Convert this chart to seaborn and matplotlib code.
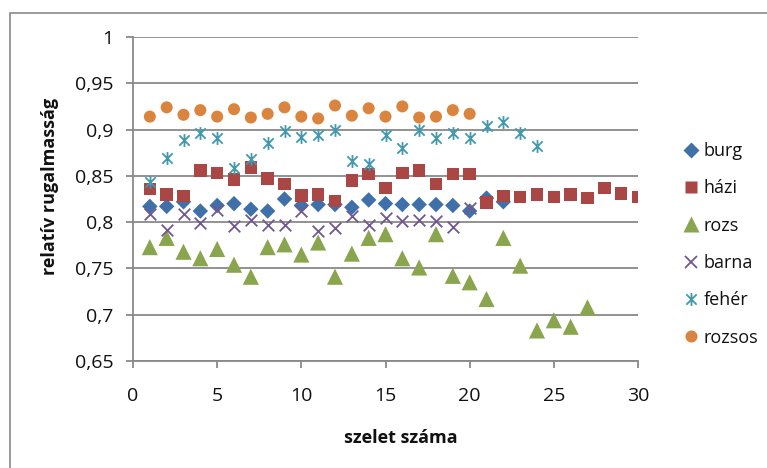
import matplotlib
matplotlib.use("Agg")
import matplotlib.pyplot as plt
from matplotlib.lines import Line2D
from matplotlib.patches import Rectangle
from matplotlib.path import Path
import numpy as np
import pandas as pd
import seaborn as sns

# Relative elasticity measured per slice for six bread types
burg = [0.817, 0.817, 0.822, 0.812, 0.818, 0.820, 0.814, 0.812, 0.825, 0.818, 0.819,
        0.819, 0.816, 0.824, 0.820, 0.819, 0.819, 0.819, 0.818, 0.812, 0.826, 0.822]
hazi = [0.836, 0.830, 0.828, 0.856, 0.853, 0.846, 0.859, 0.847, 0.841, 0.829, 0.830,
        0.823, 0.845, 0.852, 0.837, 0.853, 0.856, 0.841, 0.852, 0.852, 0.821, 0.828,
        0.827, 0.830, 0.827, 0.830, 0.826, 0.837, 0.831, 0.827]
rozs = [0.773, 0.783, 0.768, 0.761, 0.771, 0.754, 0.741, 0.773, 0.776, 0.765, 0.778,
        0.741, 0.766, 0.783, 0.787, 0.761, 0.751, 0.787, 0.742, 0.735, 0.717, 0.783,
        0.753, 0.683, 0.694, 0.687, 0.708]
barna = [0.809, 0.792, 0.809, 0.799, 0.813, 0.796, 0.802, 0.797, 0.797, 0.812, 0.790,
         0.794, 0.807, 0.797, 0.805, 0.801, 0.802, 0.801, 0.795, 0.815]
feher = [0.843, 0.869, 0.889, 0.896, 0.891, 0.859, 0.868, 0.886, 0.898, 0.892, 0.894,
         0.899, 0.866, 0.863, 0.894, 0.880, 0.900, 0.891, 0.896, 0.891, 0.904, 0.908,
         0.896, 0.882]
rozsos = [0.914, 0.924, 0.916, 0.921, 0.914, 0.922, 0.913, 0.917, 0.924, 0.914, 0.912,
          0.926, 0.915, 0.923, 0.914, 0.925, 0.913, 0.914, 0.921, 0.917]

series_names = ["burg", "házi", "rozs", "barna", "fehér", "rozsos"]
series_values = [burg, hazi, rozs, barna, feher, rozsos]

y_ticks = [0.65, 0.70, 0.75, 0.80, 0.85, 0.90, 0.95, 1.0]
y_tick_labels = ["0,65", "0,7", "0,75", "0,8", "0,85", "0,9", "0,95", "1"]
x_ticks = [0, 5, 10, 15, 20, 25, 30]

# Asterisk marker: an X crossed by a vertical stroke
star_path = Path([(-0.5, -0.5), (0.5, 0.5), (-0.5, 0.5), (0.5, -0.5), (0, -0.62), (0, 0.62)],
                 [Path.MOVETO, Path.LINETO, Path.MOVETO, Path.LINETO, Path.MOVETO, Path.LINETO])

styles = {
    "burg":   dict(color="#4070AA", marker="D", s=62, filled=True),
    "házi":   dict(color="#AA4643", marker="s", s=80, filled=True),
    "rozs":   dict(color="#89A54E", marker="^", s=135, filled=True),
    "barna":  dict(color="#71588F", marker="x", s=70, filled=False),
    "fehér":  dict(color="#4198AF", marker=star_path, s=85, filled=False),
    "rozsos": dict(color="#DB843D", marker="o", s=75, filled=True),
}

frames = []
for name, vals in zip(series_names, series_values):
    frames.append(pd.DataFrame({"szelet": np.arange(1, len(vals) + 1),
                                "rugalmasság": vals, "kenyér": name}))
df = pd.concat(frames, ignore_index=True)

sns.set_style("white")
plt.rcParams["font.family"] = ["Open Sans", "DejaVu Sans"]

fig = plt.figure(figsize=(7.67, 4.68), dpi=100)
ax = fig.add_axes([133 / 767, 1 - 361 / 468, (638 - 133) / 767, (361 - 37) / 468])

for name in series_names:
    st = styles[name]
    sub = df[df["kenyér"] == name]
    if st["filled"]:
        sns.scatterplot(data=sub, x="szelet", y="rugalmasság", ax=ax, color=st["color"],
                        marker=st["marker"], s=st["s"], edgecolor="none", linewidth=0,
                        zorder=3)
    else:
        sns.scatterplot(data=sub, x="szelet", y="rugalmasság", ax=ax, color=st["color"],
                        marker=st["marker"], s=st["s"], edgecolor=st["color"],
                        facecolor=st["color"], linewidth=1.3, zorder=3)

ax.set_xlim(0, 30)
ax.set_ylim(0.65, 1.0)
ax.set_yticks(y_ticks)
ax.set_yticklabels(y_tick_labels)
ax.set_xticks(x_ticks)
ax.set_xticklabels([str(t) for t in x_ticks])
ax.set_xlabel("")
ax.set_ylabel("")

grid_color = "#898989"
ax.yaxis.grid(True, color=grid_color, linewidth=1.3)
ax.xaxis.grid(False)
ax.set_axisbelow(True)
for side in ["top", "right"]:
    ax.spines[side].set_visible(False)
for side in ["left", "bottom"]:
    ax.spines[side].set_color(grid_color)
    ax.spines[side].set_linewidth(1.3)
ax.tick_params(axis="y", direction="out", length=5, width=1.3, color=grid_color,
               pad=9, labelsize=14, labelcolor="#111111", left=True)
ax.tick_params(axis="x", direction="out", length=5, width=1.3, color=grid_color,
               pad=14, labelsize=14, labelcolor="#111111", bottom=True)

fig.text(401 / 767, 1 - 438 / 468, "szelet száma", ha="center", va="center",
         fontsize=13, fontweight="bold", color="#111111")
fig.text(50 / 767, 1 - 186 / 468, "relatív rugalmasság", ha="center", va="center",
         rotation=90, fontsize=13, fontweight="bold", color="#111111")

handles = []
for name in series_names:
    st = styles[name]
    if st["filled"]:
        h = Line2D([], [], linestyle="none", marker=st["marker"], markersize=np.sqrt(st["s"]),
                   markerfacecolor=st["color"], markeredgecolor="none")
    else:
        h = Line2D([], [], linestyle="none", marker=st["marker"], markersize=np.sqrt(st["s"]),
                   markerfacecolor=st["color"], markeredgecolor=st["color"],
                   markeredgewidth=1.3)
    handles.append(h)
fig.legend(handles, series_names, loc="upper left",
           bbox_to_anchor=(672 / 767, 1 - 133 / 468), frameon=False,
           fontsize=13, labelspacing=1.07, handletextpad=0.15, handlelength=1.1,
           borderpad=0, labelcolor="#111111")

fig.patches.append(Rectangle((10 / 767, -0.2), 1.2, 0.2 + 455 / 468,
                             transform=fig.transFigure, fill=False,
                             edgecolor="#8a8a8a", linewidth=1.2))

fig.savefig("out.png", dpi=100)
